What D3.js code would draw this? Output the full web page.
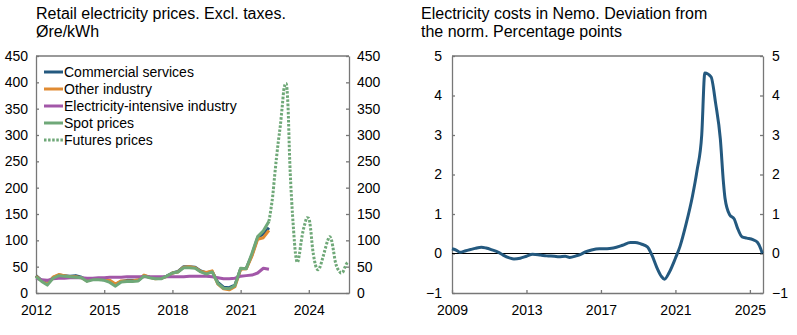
<!DOCTYPE html>
<html>
<head>
<meta charset="utf-8">
<script src="https://cdn.jsdelivr.net/npm/d3@7"></script>
<style>
  body { margin: 0; background: #fff; }
  text { font-family: "Liberation Sans", Arial, sans-serif; fill: #000; }
  .axis path, .axis line { stroke: #777; stroke-width: 1.3; }
</style>
</head>
<body>
<div id="chart"></div>
<script>
// ---- Left panel: retail electricity prices, quarterly (øre/kWh)
const quarters = ["2012-01","2012-04","2012-07","2012-10","2013-01","2013-04","2013-07","2013-10",
  "2014-01","2014-04","2014-07","2014-10","2015-01","2015-04","2015-07","2015-10",
  "2016-01","2016-04","2016-07","2016-10","2017-01","2017-04","2017-07","2017-10",
  "2018-01","2018-04","2018-07","2018-10","2019-01","2019-04","2019-07","2019-10",
  "2020-01","2020-04","2020-07","2020-10","2021-01","2021-04","2021-07","2021-10",
  "2022-01","2022-04"];
const commercial = [33,24,18,29,34,33,32,33,30,24,26,26,25,22,16,22,24,24,24,33,30,28,28,32,
  38,41,50,50,49,42,38,41,20,11,10,15,46,47,72,105,112,124];
const otherIndustry = [32,23,17,30,35,33,31,31,29,23,27,26,26,24,17,23,23,23,25,34,30,27,28,31,
  38,40,49,50,48,41,39,42,17,8,6,12,45,46,70,102,105,119];
const elIntensive = [28,25,24,27,28,28,29,29,29,28,28,29,29,30,30,30,31,31,31,31,31,31,31,31,
  31,31,31,32,32,32,32,31,29,27,27,28,32,33,34,38,47,45];
const spot = [31,22,15,28,33,32,31,30,29,22,25,25,24,20,13,21,22,22,23,32,29,27,27,32,
  38,40,48,48,47,40,36,40,18,9,8,14,47,46,75,107,118,136];

// futures, monthly
const futuresMonths = ["2022-04","2022-05","2022-06","2022-07","2022-08","2022-09","2022-10","2022-11","2022-12",
  "2023-01","2023-02","2023-03","2023-04","2023-05","2023-06","2023-07","2023-08","2023-09","2023-10","2023-11","2023-12",
  "2024-01","2024-02","2024-03","2024-04","2024-05","2024-06","2024-07","2024-08","2024-09","2024-10","2024-11","2024-12",
  "2025-01","2025-02","2025-03","2025-04","2025-05","2025-06","2025-07","2025-08","2025-09","2025-10"];
const futures = [136,158,185,222,258,290,318,355,390,
  398,355,250,175,120,75,58,72,98,118,132,143,
  142,120,85,62,48,44,50,62,75,88,100,107,
  100,80,60,48,42,38,40,48,56,59];

const leftYTicks = [0,50,100,150,200,250,300,350,400,450];
const leftXTicks = ["2012","2015","2018","2021","2024"];
const leftLegend = ["Commercial services","Other industry","Electricity-intensive industry","Spot prices","Futures prices"];

// ---- Right panel: electricity costs in Nemo, deviation from the norm
const nemoMonths = ["2009-01","2009-04","2009-06","2009-10","2010-01","2010-04","2010-08","2010-11",
  "2011-03","2011-07","2011-10","2012-02","2012-05","2012-09","2013-01","2013-05","2013-10",
  "2014-02","2014-07","2014-10","2015-02","2015-05","2015-09","2015-12","2016-03","2016-07","2016-12",
  "2017-05","2017-09","2018-03","2018-08","2018-11","2019-03","2019-07","2019-10",
  "2020-01","2020-04","2020-06","2020-09","2021-01","2021-04","2021-08","2021-12",
  "2022-03","2022-06","2022-08","2022-12","2023-03","2023-06","2023-08","2023-09","2023-12",
  "2024-03","2024-05","2024-08","2024-11","2025-03","2025-06","2025-08","2025-09"];
const nemo = [0.12,0.08,0.03,0.07,0.10,0.13,0.16,0.14,
  0.09,0.03,-0.04,-0.11,-0.14,-0.12,-0.07,-0.02,-0.04,
  -0.06,-0.07,-0.08,-0.07,-0.10,-0.06,-0.02,0.04,0.09,0.12,
  0.12,0.14,0.21,0.28,0.28,0.24,0.17,-0.05,
  -0.35,-0.58,-0.65,-0.48,-0.12,0.18,0.76,1.45,
  2.1,3.0,4.57,4.47,3.8,2.9,1.8,1.4,0.98,
  0.87,0.65,0.42,0.39,0.35,0.28,0.12,0.0];

const rightYTicks = [-1,0,1,2,3,4,5];
const rightXTicks = ["2009","2013","2017","2021","2025"];

const colors = {
  commercial: "#24597f",
  other: "#e08b32",
  elint: "#a257a8",
  spot: "#6fa878"
};

const parseMonth = d3.timeParse("%Y-%m");
const parseYear = d3.timeParse("%Y");

const svg = d3.select("#chart").append("svg")
  .attr("width", 797)
  .attr("height", 335);

// ------------- left panel
const L = { left: 36, right: 349, top: 56, bottom: 293 };

const xL = d3.scaleTime()
  .domain([parseYear("2012"), new Date(2025, 9, 8)])
  .range([L.left, L.right]);
const yL = d3.scaleLinear()
  .domain([0, 450])
  .range([L.bottom, L.top]);

// frame top
svg.append("line")
  .attr("x1", L.left).attr("x2", L.right)
  .attr("y1", L.top).attr("y2", L.top)
  .attr("stroke", "#777").attr("stroke-width", 1.3);

svg.append("g").attr("class", "axis")
  .attr("transform", `translate(${L.left},0)`)
  .call(d3.axisLeft(yL).tickValues(leftYTicks).tickSize(-3).tickPadding(8).tickSizeOuter(0))
  .selectAll("text").style("font-size", "14px");

svg.append("g").attr("class", "axis")
  .attr("transform", `translate(${L.right},0)`)
  .call(d3.axisRight(yL).tickValues(leftYTicks).tickSize(-3).tickPadding(8).tickSizeOuter(0))
  .selectAll("text").style("font-size", "14px");

svg.append("g").attr("class", "axis")
  .attr("transform", `translate(0,${L.bottom})`)
  .call(d3.axisBottom(xL).tickValues(leftXTicks.map(parseYear)).tickFormat(d3.timeFormat("%Y"))
    .tickSize(-3).tickPadding(12).tickSizeOuter(0))
  .selectAll("text").style("font-size", "14px");

const lineQ = vals => d3.line()
  .x((d, i) => xL(parseMonth(quarters[i])))
  .y(d => yL(d))(vals);

[[commercial, colors.commercial], [otherIndustry, colors.other], [elIntensive, colors.elint], [spot, colors.spot]]
  .forEach(([vals, c]) => {
    svg.append("path")
      .attr("d", lineQ(vals))
      .attr("fill", "none")
      .attr("stroke", c)
      .attr("stroke-width", 3)
      .attr("stroke-linejoin", "round");
  });

svg.append("path")
  .attr("d", d3.line()
    .curve(d3.curveMonotoneX)
    .x((d, i) => xL(parseMonth(futuresMonths[i])))
    .y(d => yL(d))(futures))
  .attr("fill", "none")
  .attr("stroke", colors.spot)
  .attr("stroke-width", 3)
  .attr("stroke-dasharray", "2.5,1.6");

// legend
const legColors = [colors.commercial, colors.other, colors.elint, colors.spot, colors.spot];
const leg = svg.append("g");
leftLegend.forEach((name, i) => {
  const yy = 72 + i * 17;
  leg.append("line")
    .attr("x1", 44).attr("x2", 63)
    .attr("y1", yy).attr("y2", yy)
    .attr("stroke", legColors[i])
    .attr("stroke-width", 3)
    .attr("stroke-dasharray", i === 4 ? "2.5,1.6" : null);
  leg.append("text")
    .attr("x", 64).attr("y", yy + 5)
    .style("font-size", "14px")
    .text(name);
});

// title
svg.append("text").attr("x", 36).attr("y", 19).style("font-size", "16px")
  .text("Retail electricity prices. Excl. taxes.");
svg.append("text").attr("x", 36).attr("y", 37).style("font-size", "16px")
  .text("Øre/kWh");

// ------------- right panel
const R = { left: 452, right: 763, top: 56, bottom: 293 };

const xR = d3.scaleTime()
  .domain([parseYear("2009"), new Date(2025, 8, 15)])
  .range([R.left, R.right]);
const yR = d3.scaleLinear()
  .domain([-1, 5])
  .range([R.bottom, R.top]);

svg.append("line")
  .attr("x1", R.left).attr("x2", R.right)
  .attr("y1", R.top).attr("y2", R.top)
  .attr("stroke", "#777").attr("stroke-width", 1.3);

const minusFmt = d => d < 0 ? "\u2212" + Math.abs(d) : d;

svg.append("g").attr("class", "axis")
  .attr("transform", `translate(${R.left},0)`)
  .call(d3.axisLeft(yR).tickValues(rightYTicks).tickFormat(minusFmt).tickSize(-3).tickPadding(10).tickSizeOuter(0))
  .selectAll("text").style("font-size", "14px");

svg.append("g").attr("class", "axis")
  .attr("transform", `translate(${R.right},0)`)
  .call(d3.axisRight(yR).tickValues(rightYTicks).tickFormat(minusFmt).tickSize(-3).tickPadding(9).tickSizeOuter(0))
  .selectAll("text").style("font-size", "14px");

svg.append("g").attr("class", "axis")
  .attr("transform", `translate(0,${R.bottom})`)
  .call(d3.axisBottom(xR).tickValues(rightXTicks.map(parseYear)).tickFormat(d3.timeFormat("%Y"))
    .tickSize(-3).tickPadding(12).tickSizeOuter(0))
  .selectAll("text").style("font-size", "14px");

// zero line
svg.append("line")
  .attr("x1", R.left).attr("x2", R.right)
  .attr("y1", yR(0)).attr("y2", yR(0))
  .attr("stroke", "#000").attr("stroke-width", 1.2);

svg.append("path")
  .attr("d", d3.line()
    .curve(d3.curveMonotoneX)
    .x((d, i) => xR(parseMonth(nemoMonths[i])))
    .y(d => yR(d))(nemo))
  .attr("fill", "none")
  .attr("stroke", colors.commercial)
  .attr("stroke-width", 3)
  .attr("stroke-linejoin", "round");

svg.append("text").attr("x", 421).attr("y", 19).style("font-size", "16px")
  .text("Electricity costs in Nemo. Deviation from");
svg.append("text").attr("x", 421).attr("y", 37).style("font-size", "16px")
  .text("the norm. Percentage points");
</script>
</body>
</html>
